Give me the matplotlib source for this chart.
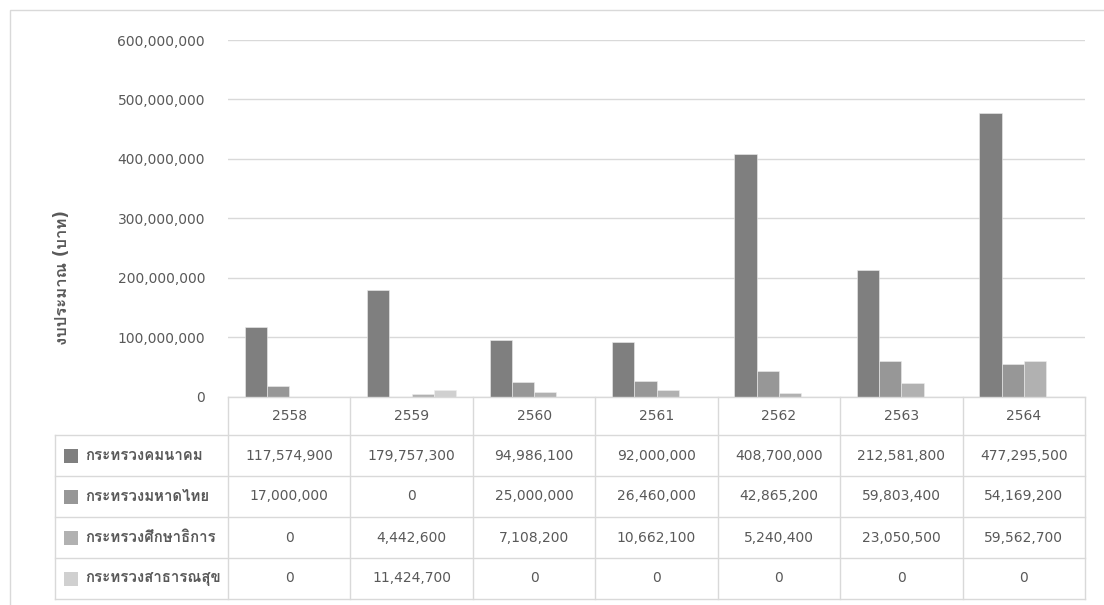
import matplotlib
matplotlib.use('Agg')
import matplotlib.pyplot as plt
from matplotlib import font_manager, ft2font
from matplotlib.patches import Rectangle
import numpy as np

# datos
anios = ['2558', '2559', '2560', '2561', '2562', '2563', '2564']
series = ['กระทรวงคมนาคม', 'กระทรวงมหาดไทย', 'กระทรวงศึกษาธิการ', 'กระทรวงสาธารณสุข']
kmn = [117574900, 179757300, 94986100, 92000000, 408700000, 212581800, 477295500]
mhd = [17000000, 0, 25000000, 26460000, 42865200, 59803400, 54169200]
ssk = [0, 4442600, 7108200, 10662100, 5240400, 23050500, 59562700]
sts = [0, 11424700, 0, 0, 0, 0, 0]
valores = [kmn, mhd, ssk, sts]
colores = ['#7F7F7F', '#979797', '#B1B1B1', '#D0D0D0']
ylabel = 'งบประมาณ (บาท)'


def fuente_thai():
    for f in font_manager.fontManager.ttflist:
        try:
            if 0x0E01 in ft2font.FT2Font(f.fname).get_charmap():
                return f.name
        except Exception:
            pass
    return None


th = fuente_thai()
fam = ['DejaVu Sans'] + ([th] if th else [])
plt.rcParams['font.family'] = fam
TXT = '#595959'
LIN = '#D9D9D9'

W, H = 1104, 605
fig = plt.figure(figsize=(W / 100, H / 100), dpi=100)
fig.patch.set_facecolor('white')


def px(x0, y0, x1, y1):
    # caja en pixeles (arriba-izquierda) -> fraccion de figura
    return [x0 / W, 1 - y1 / H, (x1 - x0) / W, (y1 - y0) / H]


# borde exterior del grafico
fig.patches.append(Rectangle((10 / W, -0.1), 1.2, 1 - 10 / H + 0.1, transform=fig.transFigure,
                             fill=False, edgecolor=LIN, lw=1.0))

X0, X1, YT, YB = 228, 1085, 40, 396.5
ax = fig.add_axes(px(X0, YT, X1, YB))
n = len(anios); m = len(valores)
gap = 1.5
bw = 1 / (m + gap)
x = np.arange(n)
for i, (v, c) in enumerate(zip(valores, colores)):
    ax.bar(x - 0.5 + bw * (gap / 2 + i + 0.5), v, width=bw, color=c, edgecolor='#EDEDED', lw=0.4, zorder=3)
ax.set_xlim(-0.5, n - 0.5)
ax.set_ylim(0, 600000000)
ax.set_yticks(np.arange(0, 600000001, 100000000))
ax.set_yticklabels(['{:,.0f}'.format(t) for t in ax.get_yticks()], fontsize=10, color=TXT)
ax.grid(axis='y', color=LIN, lw=1.0, zorder=0)
ax.tick_params(axis='y', length=0, pad=16.5)
ax.set_xticks([])
for s in ax.spines.values():
    s.set_visible(False)

fig.text(62 / W, 1 - 278 / H, ylabel, rotation=90, ha='center', va='center', fontsize=12,
         fontweight='bold', color=TXT)

# tabla de datos
LX = 55
cw = (X1 - X0) / n
filas = [396.5, 435, 476, 517, 558, 599]
tab = fig.add_axes(px(0, 0, W, H))
tab.set_xlim(0, W); tab.set_ylim(H, 0); tab.axis('off')
# lineas horizontales
tab.plot([X0, X1], [filas[0]] * 2, color=LIN, lw=1.0)
for y in filas[1:]:
    tab.plot([LX, X1], [y, y], color=LIN, lw=1.0)
# lineas verticales
tab.plot([LX, LX], [filas[1], filas[-1]], color=LIN, lw=1.0)
for j in range(n + 1):
    tab.plot([X0 + j * cw] * 2, [filas[0], filas[-1]], color=LIN, lw=1.0)
for j, a in enumerate(anios):
    tab.text(X0 + (j + 0.5) * cw, (filas[0] + filas[1]) / 2, a, ha='center', va='center', fontsize=10, color=TXT)
for i, (nom, v, c) in enumerate(zip(series, valores, colores)):
    yc = (filas[i + 1] + filas[i + 2]) / 2
    tab.add_patch(Rectangle((64, yc - 7), 14, 14, facecolor=c, edgecolor='none'))
    tab.text(85, yc, nom, ha='left', va='center', fontsize=10.8, fontweight='bold', color=TXT)
    for j, val in enumerate(v):
        tab.text(X0 + (j + 0.5) * cw, yc, '{:,.0f}'.format(val), ha='center', va='center', fontsize=10, color=TXT)

plt.savefig('out.png', dpi=100, facecolor='white')
plt.close()
